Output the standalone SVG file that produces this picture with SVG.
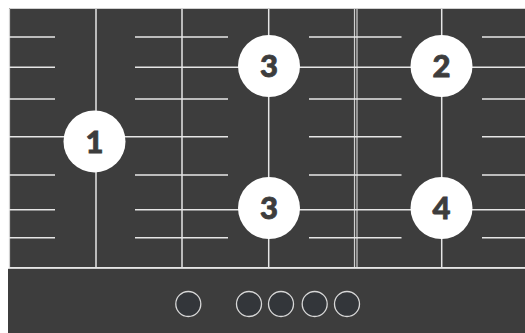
<svg xmlns="http://www.w3.org/2000/svg" width="525" height="333" viewBox="0 0 525 333">
  <style>
    .ln { stroke: #e6e6e6; stroke-width: 1.5; fill: none; }
    .bd { stroke: #d0d0d0; stroke-width: 1.2; fill: none; }
    .badge { fill: #ffffff; }
    .num { font-family: Lato, "DejaVu Sans", sans-serif; font-weight: 900; font-size: 31px; fill: #3d3d3d; stroke: #3d3d3d; stroke-width: 0.8; text-anchor: middle; }
    .knob { fill: #33363a; stroke: #d8d8d8; stroke-width: 1.3; }
  </style>
  <rect x="0" y="0" width="525" height="333" fill="#ffffff"/>
  <!-- top panel -->
  <rect x="9" y="8" width="516" height="260" fill="#3d3d3d"/>
  <g id="panel-borders">
    <line class="bd" x1="9.5" y1="8.5" x2="525" y2="8.5"/>
    <line class="bd" x1="9.5" y1="8.5" x2="9.5" y2="268"/>
    <line class="bd" x1="354.5" y1="8.5" x2="354.5" y2="268"/>
    <line class="bd" x1="357" y1="8.5" x2="357" y2="268"/>
    <line class="ln" x1="9" y1="267.8" x2="525" y2="267.8"/>
  </g>
  <g id="connectors">
    <!-- vertical lines -->
    <line class="ln" x1="96" y1="9" x2="96" y2="267"/>
    <line class="ln" x1="182" y1="9" x2="182" y2="267"/>
    <line class="ln" x1="268.7" y1="9" x2="268.7" y2="267"/>
    <line class="ln" x1="441.7" y1="9" x2="441.7" y2="267"/>
    <!-- row y=37 -->
    <path class="ln" d="M9 37H55M135 37H228M309 37H401.5M482 37H525"/>
    <!-- row y=67 -->
    <path class="ln" d="M9 67.3H55M135 67.3H525"/>
    <!-- row y=99 -->
    <path class="ln" d="M9 99H55M135 99H228M309 99H401.5M482 99H525"/>
    <!-- row y=137 -->
    <path class="ln" d="M9 136.7H228M309 136.7H401.5M482 136.7H525"/>
    <!-- row y=175 -->
    <path class="ln" d="M9 175H55M135 175H228M309 175H401.5M482 175H525"/>
    <!-- row y=210 -->
    <path class="ln" d="M9 209.7H55M135 209.7H525"/>
    <!-- row y=238 -->
    <path class="ln" d="M9 237.7H55M135 237.7H228M309 237.7H401.5M482 237.7H525"/>
  </g>
  <g id="zone-1">
    <circle class="badge" cx="94.5" cy="141.4" r="31"/>
    <text class="num" x="94.5" y="152.5">1</text>
  </g>
  <g id="zone-3-top">
    <circle class="badge" cx="269" cy="66" r="31"/>
    <text class="num" x="269" y="77">3</text>
  </g>
  <g id="zone-2">
    <circle class="badge" cx="441.5" cy="66" r="31"/>
    <text class="num" x="441.5" y="77">2</text>
  </g>
  <g id="zone-3-bottom">
    <circle class="badge" cx="269" cy="208" r="31"/>
    <text class="num" x="269" y="219">3</text>
  </g>
  <g id="zone-4">
    <circle class="badge" cx="441.5" cy="208" r="31"/>
    <text class="num" x="441.5" y="219">4</text>
  </g>
  <!-- control strip -->
  <rect x="8" y="268.8" width="517" height="64.2" fill="#3d3d3d"/>
  <g id="knobs">
    <circle class="knob" cx="188.3" cy="304" r="12.5"/>
    <circle class="knob" cx="249" cy="304" r="12.5"/>
    <circle class="knob" cx="281" cy="304" r="12.5"/>
    <circle class="knob" cx="314.7" cy="304" r="12.5"/>
    <circle class="knob" cx="347" cy="304" r="12.5"/>
  </g>
</svg>
